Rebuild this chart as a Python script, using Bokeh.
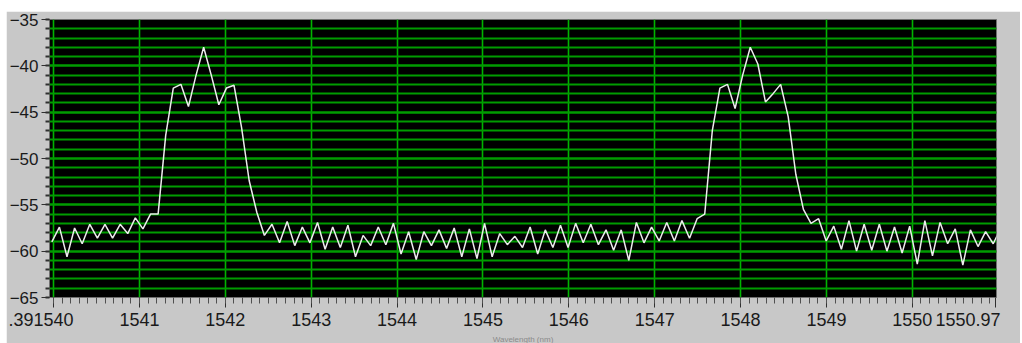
from bokeh.plotting import figure
from bokeh.models import Range1d, FixedTicker, CustomJSTickFormatter, Title
from bokeh.embed import file_html
from bokeh.resources import INLINE

# sampling grid of the spectrum analyser trace (nm)
wl_start = 1539.98
wl_step = 0.0884

power = [
    -59.0, -57.4, -60.6, -57.5, -59.2, -57.1, -58.6, -57.1, -58.6, -57.1,
    -58.1, -56.4, -57.6, -56.0, -56.0, -47.5, -42.4, -42.0, -44.4, -41.0,
    -38.0, -41.0, -44.2, -42.4, -42.1, -46.7, -52.4, -55.8, -58.3, -57.1,
    -59.1, -56.8, -59.4, -57.4, -59.1, -56.9, -59.8, -57.4, -59.6, -57.2,
    -60.6, -58.3, -59.4, -57.4, -59.3, -57.0, -60.3, -57.9, -60.9, -57.9,
    -59.4, -57.7, -59.7, -57.5, -60.6, -57.6, -60.8, -57.0, -60.6, -58.1,
    -59.3, -58.4, -59.6, -57.4, -60.3, -57.7, -59.6, -57.2, -59.6, -57.0,
    -59.1, -57.1, -59.3, -57.7, -59.9, -57.7, -61.0, -56.9, -59.1, -57.4,
    -58.9, -56.9, -58.9, -56.7, -58.6, -56.5, -56.0, -47.0, -42.4, -42.0,
    -44.6, -41.0, -38.0, -39.8, -43.9, -43.0, -42.0, -45.5, -51.7, -55.5,
    -57.0, -56.5, -58.9, -57.3, -59.8, -56.7, -60.0, -57.1, -59.9, -57.1,
    -60.0, -57.4, -60.2, -57.3, -61.4, -56.7, -60.5, -56.9, -59.2, -57.6,
    -61.5, -57.7, -59.5, -57.9, -59.2, -57.5,
]
wavelength = [wl_start + wl_step * i for i in range(len(power))]

x_ticks = [1540, 1541, 1542, 1543, 1544, 1545, 1546, 1547, 1548, 1549, 1550, 1550.97]
x_grid = [1540, 1541, 1542, 1543, 1544, 1545, 1546, 1547, 1548, 1549, 1550]
y_ticks = [-65, -60, -55, -50, -45, -40, -35]
x_title = "Wavelength (nm)"

PANEL = "#c8c8c8"

p = figure(width=1014, height=332, output_backend="svg", toolbar_location=None,
           x_range=Range1d(1539.953, 1550.98), y_range=Range1d(-65, -35),
           min_border_left=42, min_border_right=24, min_border_top=8,
           min_border_bottom=43)
p.margin = (11, 0, 0, 6)
p.background_fill_color = "black"
p.border_fill_color = PANEL
p.outline_line_color = "#707070"
p.outline_line_width = 1

# y axis
p.yaxis.ticker = FixedTicker(ticks=y_ticks, minor_ticks=list(range(-65, -34)))
p.yaxis.axis_line_color = None
p.yaxis.major_tick_out = 8
p.yaxis.major_tick_in = 0
p.yaxis.minor_tick_out = 4
p.yaxis.minor_tick_in = 0
p.yaxis.major_tick_line_color = "#303030"
p.yaxis.minor_tick_line_color = "#303030"
p.yaxis.minor_tick_line_width = 2
p.yaxis.major_label_standoff = 3
p.yaxis.major_label_text_font = "Liberation Sans"
p.yaxis.major_label_text_font_size = "17px"
p.yaxis.major_label_text_color = "#1a1a1a"

# x axis; the two end labels overlap their neighbours as in the original
minor_x = [round(1539.9 + 0.1 * k, 2) for k in range(112)]
p.xaxis.ticker = FixedTicker(ticks=x_ticks, minor_ticks=minor_x)
p.xaxis.formatter = CustomJSTickFormatter(code="""
    const sp = "\\u00a0";
    if (Math.abs(tick - 1540) < 1e-6) { return ".391540" + sp.repeat(5); }
    if (Math.abs(tick - Math.round(tick)) < 1e-6) { return tick.toFixed(0); }
    return tick.toFixed(2) + sp.repeat(4);
""")
p.xaxis.axis_line_color = None
p.xaxis.major_tick_out = 10
p.xaxis.major_tick_in = 0
p.xaxis.minor_tick_out = 6
p.xaxis.minor_tick_in = 0
p.xaxis.major_tick_line_color = "#303030"
p.xaxis.minor_tick_line_color = "#505050"
p.xaxis.major_label_standoff = 2
p.xaxis.major_label_text_font = "Liberation Sans"
p.xaxis.major_label_text_font_size = "18px"
p.xaxis.major_label_text_color = "#1a1a1a"

# grids
p.xgrid.ticker = FixedTicker(ticks=x_grid)
p.xgrid.grid_line_color = "#00b400"
p.xgrid.grid_line_width = 1.6
p.ygrid.grid_line_color = "#009c00"
p.ygrid.grid_line_width = 1.8
p.ygrid.minor_grid_line_color = "#009c00"
p.ygrid.minor_grid_line_width = 1.8

p.line(wavelength, power, line_color="#ececec", line_width=1.5)

p.add_layout(Title(text=x_title, align="center", text_font="Liberation Sans",
                   text_font_size="8px", text_font_style="normal",
                   text_color="#8a8a8a", standoff=0, offset=0), "below")

open("out.html", "w").write(file_html(p, INLINE))
